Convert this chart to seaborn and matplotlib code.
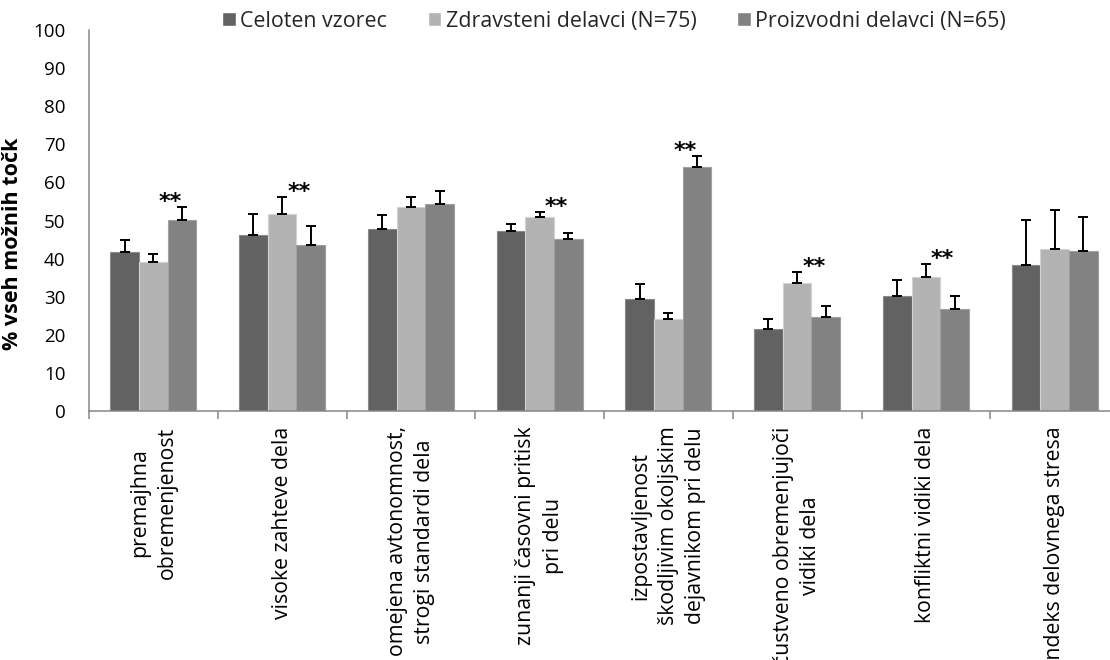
import numpy as np
import pandas as pd
import matplotlib
matplotlib.use("Agg")
import matplotlib.pyplot as plt
import seaborn as sns

kategorije = [
    "premajhna\nobremenjenost",
    "visoke zahteve dela",
    "omejena avtonomnost,\nstrogi standardi dela",
    "zunanji časovni pritisk\npri delu",
    "izpostavljenost\nškodljivim okoljskim\ndejavnikom pri delu",
    "čustveno obremenjujoči\nvidiki dela",
    "konfliktni vidiki dela",
    "indeks delovnega stresa",
]
skupine = ["Celoten vzorec", "Zdravsteni delavci (N=75)", "Proizvodni delavci (N=65)"]

celoten = [41.8, 46.2, 47.9, 47.3, 29.5, 21.4, 30.1, 38.4]
zdravstveni = [39.0, 51.6, 53.5, 50.8, 24.2, 33.6, 35.2, 42.6]
proizvodni = [50.2, 43.7, 54.4, 45.2, 64.0, 24.8, 26.7, 42.1]

napaka_celoten = [3.0, 5.4, 3.6, 1.7, 3.8, 2.8, 4.4, 11.7]
napaka_zdravstveni = [2.3, 4.6, 2.7, 1.5, 1.6, 2.9, 3.5, 10.2]
napaka_proizvodni = [3.3, 4.8, 3.4, 1.6, 2.9, 2.7, 3.6, 8.7]

# kategorije z oznako ** (statisticno znacilna razlika)
znacilno = [0, 1, 3, 4, 5, 6]

barve = ["#626262", "#b3b3b3", "#828282"]
robovi = ["#8a8a8a", "#d2d2d2", "#a0a0a0"]

vrednosti = [celoten, zdravstveni, proizvodni]
napake = [napaka_celoten, napaka_zdravstveni, napaka_proizvodni]

rows = []
for s, vals in zip(skupine, vrednosti):
    for k, v in zip(kategorije, vals):
        rows.append({"kategorija": k, "skupina": s, "vrednost": v})
df = pd.DataFrame(rows)

sns.set_style("white")
plt.rcParams["font.family"] = ["Open Sans", "DejaVu Sans"]

fig = plt.figure(figsize=(11.1, 6.6), dpi=100)
ax = fig.add_axes([89 / 1110, 1 - 411 / 660, 1030 / 1110, 381 / 660])

sns.barplot(data=df, x="kategorija", y="vrednost", hue="skupina",
            order=kategorije, hue_order=skupine, palette=barve,
            width=0.667, errorbar=None, saturation=1, ax=ax)

bar_containers = list(ax.containers)[:3]
for cont, errs, rob in zip(bar_containers, napake, robovi):
    xs, ys = [], []
    for p in cont:
        p.set_edgecolor(rob)
        p.set_linewidth(0.8)
        xs.append(p.get_x() + p.get_width() / 2)
        ys.append(p.get_height())
    ax.errorbar(xs, ys, yerr=[np.zeros(len(errs)), errs], fmt="none",
                ecolor="black", elinewidth=1.4, capsize=3.6, capthick=1.4, zorder=5)

for i in znacilno:
    top = max(v[i] + e[i] for v, e in zip(vrednosti, napake))
    ax.text(i + 0.13, top + 1.3, "**", ha="center", va="center",
            fontsize=16, fontweight="bold", color="black", family="DejaVu Sans")

ax.set_ylim(0, 100)
ax.set_xlim(-0.5, 7.5)
ax.set_yticks(range(0, 101, 10))
ax.tick_params(axis="y", length=0, pad=17, labelsize=13.5, labelcolor="black")

ax.set_xticks(range(len(kategorije)))
ax.set_xticklabels(kategorije, rotation=90, ha="center", va="top",
                   multialignment="center", fontsize=15.3, linespacing=1.4,
                   color="black")
ax.tick_params(axis="x", which="major", length=0, pad=11)
ax.set_xticks(np.arange(-0.5, 8, 1), minor=True)
ax.tick_params(axis="x", which="minor", bottom=True, length=6, width=1.1,
               color="#868686", direction="out")

ax.set_xlabel("")
ax.set_ylabel("% vseh možnih točk", fontsize=15.5, fontweight="bold", color="black")
ax.yaxis.set_label_coords(-0.064, 0.44)

for side in ["top", "right"]:
    ax.spines[side].set_visible(False)
for side in ["left", "bottom"]:
    ax.spines[side].set_color("#868686")
    ax.spines[side].set_linewidth(1.1)

handles, labels = ax.get_legend_handles_labels()
ax.get_legend().remove()
fig.legend(handles, labels, loc="center", bbox_to_anchor=(0.553, 0.968), ncol=3,
           frameon=False, fontsize=15.4, handlelength=0.65, handleheight=0.65,
           handletextpad=0.19, columnspacing=1.9, borderpad=0, borderaxespad=0)

fig.savefig("out.png", dpi=100)
